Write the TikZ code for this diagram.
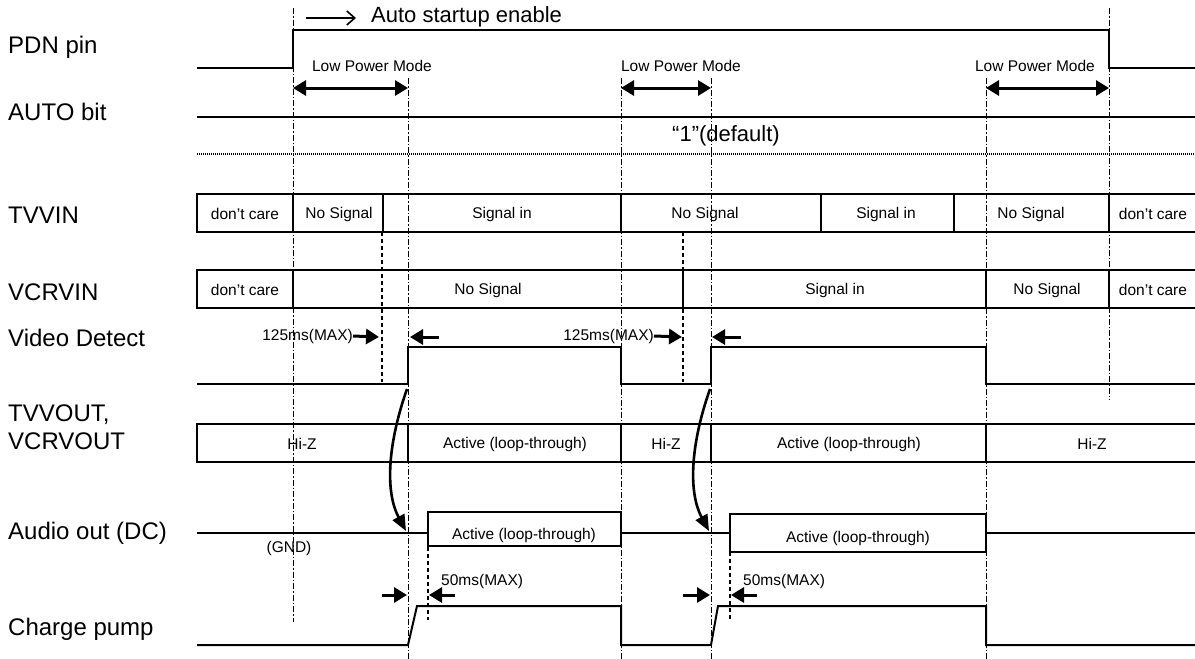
\documentclass[tikz,border=0pt]{standalone}
\usepackage{fontspec}
\setmainfont{Liberation Sans}
\usetikzlibrary{arrows.meta}
\begin{document}
\begin{tikzpicture}[x=1pt,y=-1pt,
  lab/.style={font=\fontsize{24}{28}\selectfont, anchor=west, inner sep=0pt, align=left},
  big/.style={font=\fontsize{22}{26}\selectfont, inner sep=0pt},
  sm/.style={font=\fontsize{15.5}{18}\selectfont, inner sep=0pt},
  sig/.style={line width=2pt},
  boxl/.style={line width=2pt},
  thk/.style={line width=2.8pt},
  vd/.style={line width=0.6pt, dash pattern=on 6pt off 2pt on 1.5pt off 2pt},
  thd/.style={line width=1.5pt, dash pattern=on 4pt off 3pt},
  arr/.style={line width=3pt, -{Triangle[length=13pt,width=15pt]}},
  darr/.style={line width=3pt, {Triangle[length=13pt,width=15pt]}-{Triangle[length=13pt,width=15pt]}},
  carr/.style={line width=2.6pt, -{Triangle[length=16pt,width=13pt]}}
]
\useasboundingbox (0,0) rectangle (1195,659);

% row labels
\node[lab] (lpdn) at (8,47) {PDN pin};
\node[lab] (lauto) at (8,112) {AUTO bit};
\node[lab] (ltv) at (8,215) {TVVIN};
\node[lab] (lvcr) at (8,292) {VCRVIN};
\node[lab] (lvd) at (8,338) {Video Detect};
\node[lab] (lout) at (8,427) {TVVOUT,\\VCRVOUT};
\node[lab] (laud) at (8,533) {Audio out (DC)};
\node[lab] (lcp) at (8,629) {Charge pump};

% thin vertical guides
\draw[vd] (293,8) -- (293,622);
\draw[vd] (408,78) -- (408,659);
\draw[vd] (621,78) -- (621,659);
\draw[vd] (711,78) -- (711,659);
\draw[vd] (986,78) -- (986,659);
\draw[vd] (1109,8) -- (1109,400);

% thick dashed guides
\draw[thd] (382,232) -- (382,382);
\draw[thd] (683,232) -- (683,382);
\draw[thd] (428,547) -- (428,620);
\draw[thd] (730,552) -- (730,620);

% PDN pin
\draw[sig] (197,68) -- (293,68) -- (293,30) -- (1109,30) -- (1109,68) -- (1195,68);
\coordinate (as1) at (306,18);
\coordinate (as2) at (356,18);
\draw[line width=1.6pt, -{Straight Barb[length=8pt,width=14pt,line width=1.6pt]}] (as1) -- (as2);
\node[big, anchor=west] (ase) at (371,17) {Auto startup enable};

\node[sm] (lpm1) at (372,66) {Low Power Mode};
\node[sm] (lpm2) at (681,66) {Low Power Mode};
\node[sm] (lpm3) at (1035,66) {Low Power Mode};
\coordinate (d1a) at (293,88); \coordinate (d1b) at (408,88);
\coordinate (d2a) at (621,88); \coordinate (d2b) at (711,88);
\coordinate (d3a) at (986,88); \coordinate (d3b) at (1109,88);
\draw[darr] (d1a) -- (d1b);
\draw[darr] (d2a) -- (d2b);
\draw[darr] (d3a) -- (d3b);

% AUTO bit
\draw[sig] (197,117) -- (1195,117);
\draw[line width=2pt, dash pattern=on 1.2pt off 0.8pt] (197,154) -- (1195,154);
\node[big] (def) at (726,136) {“1”(default)};

% TVVIN
\draw[boxl] (1195,194) -- (197,194) -- (197,232) -- (1195,232);
\foreach \x in {293,621,821,954,1109} \draw[boxl] (\x,194) -- (\x,232);
\draw[thk] (383,194) -- (383,232);
\node[sm] (t1) at (245,214) {don’t care};
\node[sm] (t2) at (339,214) {No Signal};
\node[sm] (t3) at (502,214) {Signal in};
\node[sm] (t4) at (705,214) {No Signal};
\node[sm] (t5) at (886,214) {Signal in};
\node[sm] (t6) at (1031,214) {No Signal};
\node[sm] (t7) at (1153,214) {don’t care};

% VCRVIN
\draw[boxl] (1195,270) -- (197,270) -- (197,308) -- (1195,308);
\foreach \x in {683,986,1109} \draw[boxl] (\x,270) -- (\x,308);
\draw[thk] (293,270) -- (293,308);
\node[sm] (v1) at (245,290) {don’t care};
\node[sm] (v2) at (488,290) {No Signal};
\node[sm] (v3) at (835,290) {Signal in};
\node[sm] (v4) at (1047,290) {No Signal};
\node[sm] (v5) at (1153,290) {don’t care};

% Video Detect
\draw[sig] (197,384) -- (408,384) -- (408,347) -- (621,347) -- (621,384) -- (711,384) -- (711,347) -- (986,347) -- (986,384) -- (1195,384);
\node[sm, anchor=east] (m1) at (353,336) {125ms(MAX)};
\node[sm, anchor=east] (m2) at (654,336) {125ms(MAX)};
\coordinate (m1b) at (379,337); \coordinate (m1c) at (439,337); \coordinate (m1d) at (410,337);
\coordinate (m2b) at (682,337); \coordinate (m2c) at (741,337); \coordinate (m2d) at (712,337);
\draw[arr] (m1.east) -- (m1b);
\draw[arr] (m1c) -- (m1d);
\draw[arr] (m2.east) -- (m2b);
\draw[arr] (m2c) -- (m2d);

% TVVOUT / VCRVOUT
\draw[boxl] (1195,424) -- (197,424) -- (197,462) -- (1195,462);
\foreach \x in {408,621,711,986} \draw[boxl] (\x,424) -- (\x,462);
\node[sm] (o1) at (302,444) {Hi-Z};
\node[sm] (o2) at (515,444) {Active (loop-through)};
\node[sm] (o3) at (666,444) {Hi-Z};
\node[sm] (o4) at (849,444) {Active (loop-through)};
\node[sm] (o5) at (1092,444) {Hi-Z};

% Audio out
\draw[line width=1.6pt] (197,533) -- (428,533);
\draw[line width=1.6pt] (428,512) rectangle (621,546);
\draw[line width=1.6pt] (621,533) -- (730,533);
\draw[line width=1.6pt] (730,514) rectangle (986,552);
\draw[line width=1.6pt] (986,533) -- (1195,533);
\node[sm] (a1) at (524,535) {Active (loop-through)};
\node[sm] (a2) at (858,538) {Active (loop-through)};
\node[sm] (gnd) at (289,548) {(GND)};

% curved arrows
\coordinate (c1s) at (407,389); \coordinate (c1e) at (406,531);
\coordinate (c2s) at (710,389); \coordinate (c2e) at (709,531);
\draw[carr] (c1s) .. controls (389,440) and (384,490) .. (c1e);
\draw[carr] (c2s) .. controls (692,440) and (687,490) .. (c2e);

% Charge pump
\draw[sig] (197,645) -- (408,645) -- (417,606) -- (621,606) -- (621,645) -- (711,645) -- (718,606) -- (986,606) -- (986,645) -- (1195,645);
\node[sm, anchor=west] (f1) at (441,581) {50ms(MAX)};
\node[sm, anchor=west] (f2) at (743,581) {50ms(MAX)};
\coordinate (f1a) at (382,595); \coordinate (f1b) at (407,595);
\coordinate (f1c) at (455,595); \coordinate (f1d) at (429,595);
\coordinate (f2a) at (683,595); \coordinate (f2b) at (710,595);
\coordinate (f2c) at (757,595); \coordinate (f2d) at (731,595);
\draw[arr] (f1a) -- (f1b);
\draw[arr] (f1c) -- (f1d);
\draw[arr] (f2a) -- (f2b);
\draw[arr] (f2c) -- (f2d);
\end{tikzpicture}
\end{document}
